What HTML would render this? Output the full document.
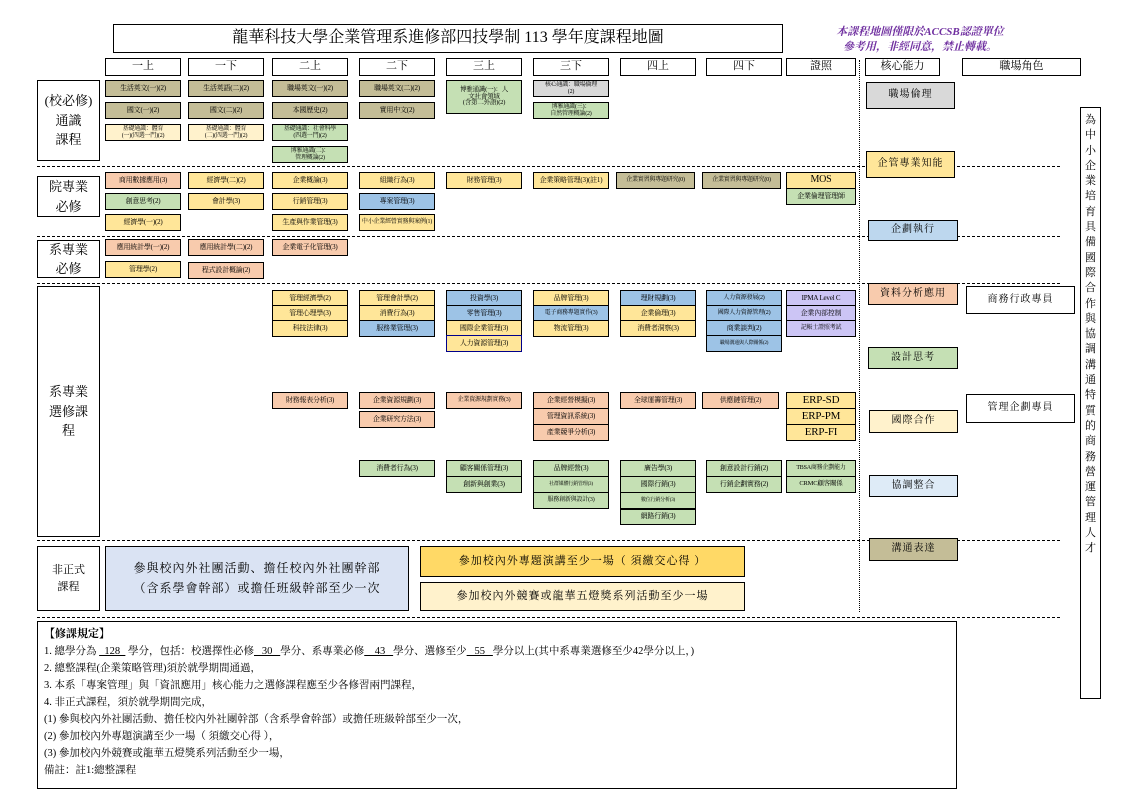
<!DOCTYPE html>
<html><head><meta charset="utf-8">
<style>
body{margin:0;background:#fff;}
#p{position:relative;width:1122px;height:793px;overflow:hidden;font-family:"Liberation Serif","Noto Serif CJK SC",serif;color:#000;}
#p div{position:absolute;box-sizing:border-box;}
.b{border:1px solid #000;display:flex;align-items:center;justify-content:center;text-align:center;line-height:1.05;}
.c{font-size:7px;height:17px;width:76px;letter-spacing:-0.2px;}
.h{top:58px;height:18px;font-size:11px;background:#fff;}
.k{background:#c4bd97}.y{background:#ffe699}.s{background:#f8cbad}.g{background:#c5e0b4}.bl{background:#9dc3e6}.pu{background:#ccc5f5}.ly{background:#fff2cc}.gr{background:#d9d9d9}
.lab{font-size:13px;background:#fff;left:37px;width:63px;line-height:1.5;}
.dash{height:0;border-top:1px dashed #000;left:37px;width:1023px;}
.core{font-size:10px;left:867px;width:90px;letter-spacing:1px;}
</style></head><body><div id="p">
<div class="b" style="left:113px;top:24px;width:670px;height:29px;font-size:16px;">龍華科技大學企業管理系進修部四技學制 113 學年度課程地圖</div>
<div style="left:800px;top:25px;width:240px;font-size:11px;color:#7030a0;font-style:italic;font-weight:bold;text-align:center;line-height:15px;">本課程地圖僅限於ACCSB認證單位<br>參考用，非經同意，禁止轉載。</div>

<div class="b h" style="left:105px;width:76px">一上</div>
<div class="b h" style="left:188px;width:76px">一下</div>
<div class="b h" style="left:272px;width:76px">二上</div>
<div class="b h" style="left:359px;width:76px">二下</div>
<div class="b h" style="left:446px;width:76px">三上</div>
<div class="b h" style="left:533px;width:76px">三下</div>
<div class="b h" style="left:620px;width:76px">四上</div>
<div class="b h" style="left:706px;width:76px">四下</div>
<div class="b h" style="left:786px;width:70px">證照</div>
<div class="b h" style="left:865px;width:75px">核心能力</div>
<div class="b h" style="left:962px;width:119px">職場角色</div>

<div style="left:859px;top:60px;height:552px;width:0;border-left:1px dotted #000;"></div>

<!-- section 1 -->
<div class="b lab" style="top:80px;height:81px;">(校必修)<br>通識<br>課程</div>
<div class="b c k" style="left:105px;top:80px">生活英文(一)(2)</div>
<div class="b c k" style="left:105px;top:102px">國文(一)(2)</div>
<div class="b c ly" style="left:105px;top:124px;font-size:6px">基礎通識：體育<br>(一)(四選一門)(2)</div>
<div class="b c k" style="left:188px;top:80px">生活英語(二)(2)</div>
<div class="b c k" style="left:188px;top:102px">國文(二)(2)</div>
<div class="b c ly" style="left:188px;top:124px;font-size:6px">基礎通識：體育<br>(二)(四選一門)(2)</div>
<div class="b c k" style="left:272px;top:80px">職場英文(一)(2)</div>
<div class="b c k" style="left:272px;top:102px">本國歷史(2)</div>
<div class="b c g" style="left:272px;top:124px;font-size:6px">基礎通識：社會科學<br>(四選一門)(2)</div>
<div class="b c g" style="left:272px;top:146px;font-size:6px">博雅通識(二)：<br>管理概論(2)</div>
<div class="b c k" style="left:359px;top:80px">職場英文(二)(2)</div>
<div class="b c k" style="left:359px;top:102px">實用中文(2)</div>
<div class="b c g" style="left:446px;top:80px;height:34px;font-size:6.5px">博雅通識(一)：人<br>文社會領域<br>(含第二外語)(2)</div>
<div class="b c gr" style="left:533px;top:80px;font-size:6px">核心通識：職場倫理<br>(2)</div>
<div class="b c g" style="left:533px;top:102px;font-size:6px">博雅通識(三)：<br>自然管理概論(2)</div>

<div class="dash" style="top:166px"></div>
<!-- section 2 -->
<div class="b lab" style="top:176px;height:41px;">院專業<br>必修</div>
<div class="b c s" style="left:105px;top:172px">商用數據應用(3)</div>
<div class="b c g" style="left:105px;top:193px">創意思考(2)</div>
<div class="b c y" style="left:105px;top:214px">經濟學(一)(2)</div>
<div class="b c y" style="left:188px;top:172px">經濟學(二)(2)</div>
<div class="b c y" style="left:188px;top:193px">會計學(3)</div>
<div class="b c y" style="left:272px;top:172px">企業概論(3)</div>
<div class="b c y" style="left:272px;top:193px">行銷管理(3)</div>
<div class="b c y" style="left:272px;top:214px">生產與作業管理(3)</div>
<div class="b c y" style="left:359px;top:172px">組織行為(3)</div>
<div class="b c bl" style="left:359px;top:193px">專案管理(3)</div>
<div class="b c y" style="left:359px;top:214px;font-size:6px">中小企業經營實務與案例(1)</div>
<div class="b c y" style="left:446px;top:172px">財務管理(3)</div>
<div class="b c y" style="left:533px;top:172px">企業策略管理(3)(註1)</div>
<div class="b c k" style="left:616px;top:172px;width:79px;font-size:6px">企業實習與專題研究(0)</div>
<div class="b c k" style="left:702px;top:172px;width:79px;font-size:6px">企業實習與專題研究(0)</div>
<div class="b c y" style="left:786px;top:172px;width:70px;font-size:10px">MOS</div>
<div class="b c g" style="left:786px;top:188px;width:70px;height:17px">企業倫理管理師</div>

<div class="dash" style="top:236px"></div>
<!-- section 3 -->
<div class="b lab" style="top:240px;height:38px;">系專業<br>必修</div>
<div class="b c s" style="left:105px;top:239px">應用統計學(一)(2)</div>
<div class="b c y" style="left:105px;top:261px">管理學(2)</div>
<div class="b c s" style="left:188px;top:239px">應用統計學(二)(2)</div>
<div class="b c s" style="left:188px;top:262px">程式設計概論(2)</div>
<div class="b c s" style="left:272px;top:239px">企業電子化管理(3)</div>

<div class="dash" style="top:283px"></div>
<!-- section 4 -->
<div class="b lab" style="top:286px;height:251px;">系專業<br>選修課<br>程</div>
<div class="b c y" style="left:272px;top:290px">管理經濟學(2)</div>
<div class="b c y" style="left:272px;top:305px">管理心理學(3)</div>
<div class="b c y" style="left:272px;top:320px">科技法律(3)</div>
<div class="b c y" style="left:359px;top:290px">管理會計學(2)</div>
<div class="b c y" style="left:359px;top:305px">消費行為(3)</div>
<div class="b c bl" style="left:359px;top:320px">服務業管理(3)</div>
<div class="b c bl" style="left:446px;top:290px">投資學(3)</div>
<div class="b c bl" style="left:446px;top:305px">零售管理(3)</div>
<div class="b c y" style="left:446px;top:320px">國際企業管理(3)</div>
<div class="b c y" style="left:446px;top:335px;border-color:#00008b">人力資源管理(3)</div>
<div class="b c y" style="left:533px;top:290px">品牌管理(3)</div>
<div class="b c bl" style="left:533px;top:305px;font-size:6px">電子商務專題實作(3)</div>
<div class="b c y" style="left:533px;top:320px">物流管理(3)</div>
<div class="b c bl" style="left:620px;top:290px">理財規劃(3)</div>
<div class="b c y" style="left:620px;top:305px">企業倫理(3)</div>
<div class="b c y" style="left:620px;top:320px">消費者洞察(3)</div>
<div class="b c bl" style="left:706px;top:290px;font-size:6px">人力資源發展(2)</div>
<div class="b c bl" style="left:706px;top:305px;font-size:6px">國際人力資源管理(2)</div>
<div class="b c bl" style="left:706px;top:320px">商業談判(2)</div>
<div class="b c bl" style="left:706px;top:335px;font-size:5px">職場溝通與人際關係(2)</div>
<div class="b c pu" style="left:786px;top:290px;width:70px">IPMA Level C</div>
<div class="b c pu" style="left:786px;top:305px;width:70px">企業內部控制</div>
<div class="b c pu" style="left:786px;top:320px;width:70px;font-size:6px">記帳士證照考試</div>

<div class="b c s" style="left:272px;top:392px">財務報表分析(3)</div>
<div class="b c s" style="left:359px;top:392px">企業資源規劃(3)</div>
<div class="b c s" style="left:359px;top:411px">企業研究方法(3)</div>
<div class="b c s" style="left:446px;top:392px;font-size:6px">企業資源規劃實務(3)</div>
<div class="b c s" style="left:533px;top:392px">企業經營模擬(3)</div>
<div class="b c s" style="left:533px;top:408px">管理資訊系統(3)</div>
<div class="b c s" style="left:533px;top:424px">產業競爭分析(3)</div>
<div class="b c s" style="left:620px;top:392px">全球運籌管理(3)</div>
<div class="b c s" style="left:702px;top:392px;width:77px">供應鏈管理(2)</div>
<div class="b c y" style="left:786px;top:392px;width:70px;font-size:11px">ERP-SD</div>
<div class="b c y" style="left:786px;top:408px;width:70px;font-size:11px">ERP-PM</div>
<div class="b c y" style="left:786px;top:424px;width:70px;font-size:11px">ERP-FI</div>

<div class="b c g" style="left:359px;top:460px">消費者行為(3)</div>
<div class="b c g" style="left:446px;top:460px">顧客關係管理(3)</div>
<div class="b c g" style="left:446px;top:476px">創新與創業(3)</div>
<div class="b c g" style="left:533px;top:460px">品牌經營(3)</div>
<div class="b c g" style="left:533px;top:476px;font-size:5px">社群媒體行銷管理(3)</div>
<div class="b c g" style="left:533px;top:492px;font-size:6px">服務創新與設計(3)</div>
<div class="b c g" style="left:620px;top:460px">廣告學(3)</div>
<div class="b c g" style="left:620px;top:476px">國際行銷(3)</div>
<div class="b c g" style="left:620px;top:492px;font-size:5px">數位行銷分析(3)</div>
<div class="b c g" style="left:620px;top:508px;border-top:2px solid #000">網路行銷(3)</div>
<div class="b c g" style="left:706px;top:460px">創意設計行銷(2)</div>
<div class="b c g" style="left:706px;top:476px">行銷企劃實務(2)</div>
<div class="b c g" style="left:786px;top:460px;width:70px;font-size:6px">TBSA商務企劃能力</div>
<div class="b c g" style="left:786px;top:476px;width:70px;font-size:6.5px">CRMC顧客關係</div>

<div class="dash" style="top:540px"></div>
<!-- section 5 -->
<div class="b lab" style="top:546px;height:65px;font-size:11px;">非正式<br>課程</div>
<div class="b" style="left:105px;top:546px;width:304px;height:65px;background:#dae3f3;font-size:12px;line-height:1.6;letter-spacing:1px;">參與校內外社團活動、擔任校內外社團幹部<br>（含系學會幹部）或擔任班級幹部至少一次</div>
<div class="b" style="left:420px;top:546px;width:325px;height:31px;background:#ffd966;font-size:11px;letter-spacing:1px;">參加校內外專題演講至少一場（ 須繳交心得 ）</div>
<div class="b" style="left:420px;top:582px;width:325px;height:29px;background:#fff2cc;font-size:11px;letter-spacing:1px;">參加校內外競賽或龍華五燈獎系列活動至少一場</div>
<div class="dash" style="top:617px"></div>

<div class="b" style="left:37px;top:621px;width:920px;height:168px;display:block;font-size:10.5px;line-height:17px;padding:4px 0 0 6px;text-align:left;">
<b style="font-size:11px">【修課規定】</b><br>
1. 總學分為 <u>&nbsp;&nbsp;128&nbsp;&nbsp;</u> 學分，包括：校選擇性必修<u>&nbsp;&nbsp;&nbsp;30&nbsp;&nbsp;&nbsp;</u>學分、系專業必修<u>&nbsp;&nbsp;&nbsp;&nbsp;43&nbsp;&nbsp;&nbsp;</u>學分、選修至少<u>&nbsp;&nbsp;&nbsp;55&nbsp;&nbsp;&nbsp;</u>學分以上(其中系專業選修至少42學分以上，)<br>
2. 總整課程(企業策略管理)須於就學期間通過，<br>
3. 本系「專案管理」與「資訊應用」核心能力之選修課程應至少各修習兩門課程，<br>
4. 非正式課程，須於就學期間完成，<br>
(1) 參與校內外社團活動、擔任校內外社團幹部（含系學會幹部）或擔任班級幹部至少一次，<br>
(2) 參加校內外專題演講至少一場（ 須繳交心得 ），<br>
(3) 參加校內外競賽或龍華五燈獎系列活動至少一場，<br>
備註：註1:總整課程</div>

<!-- right side -->
<div class="b core gr" style="left:866px;top:82px;width:89px;height:27px;">職場倫理</div>
<div class="b core y" style="left:866px;top:151px;width:89px;height:27px;">企管專業知能</div>
<div class="b core" style="left:868px;top:220px;width:90px;height:21px;background:#bdd7ee">企劃執行</div>
<div class="b core s" style="left:868px;top:283px;width:90px;height:22px;">資料分析應用</div>
<div class="b core g" style="left:868px;top:347px;width:90px;height:22px;">設計思考</div>
<div class="b core ly" style="left:869px;top:410px;width:89px;height:23px;">國際合作</div>
<div class="b core" style="left:869px;top:475px;width:89px;height:22px;background:#deebf7">協調整合</div>
<div class="b core k" style="left:869px;top:538px;width:89px;height:23px;">溝通表達</div>

<div class="b" style="left:966px;top:286px;width:109px;height:28px;font-size:10px;letter-spacing:1px;">商務行政專員</div>
<div class="b" style="left:966px;top:394px;width:109px;height:29px;font-size:10px;letter-spacing:1px;">管理企劃專員</div>
<div class="b" style="left:1080px;top:107px;width:21px;height:592px;font-size:11px;align-items:flex-start;padding-top:5px;line-height:15.3px;">為<br>中<br>小<br>企<br>業<br>培<br>育<br>具<br>備<br>國<br>際<br>合<br>作<br>與<br>協<br>調<br>溝<br>通<br>特<br>質<br>的<br>商<br>務<br>營<br>運<br>管<br>理<br>人<br>才</div>
</div></body></html>
